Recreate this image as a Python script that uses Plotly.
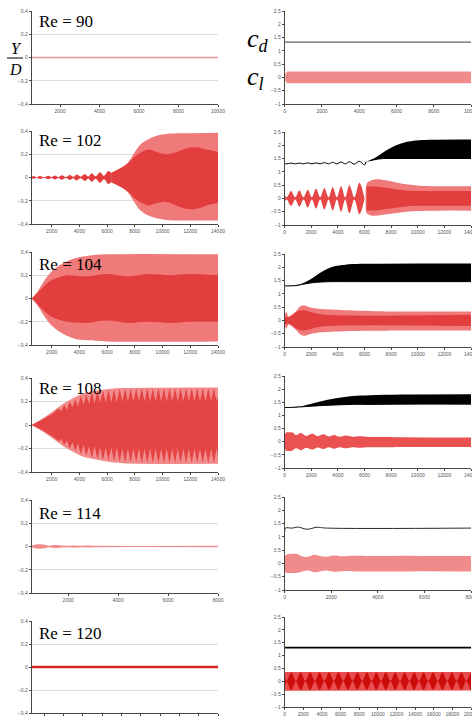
import plotly.graph_objects as go

W, H = 472, 716

# ---------------- data ----------------
# Row 1 : Re = 90
L1_t = [560, 10000]
L1_y = [0.0, 0.0]
R1_cd_t = [0, 10000]
R1_cd = [1.33, 1.33]
R1_cl_t = [30, 120, 10000]
R1_cl_up = [0.12, 0.22, 0.22]
R1_cl_lo = [-0.12, -0.22, -0.22]

# Row 2 : Re = 102
L2_lobe_t = [560, 676, 916, 1156, 1456, 1757, 1997, 2238, 2478, 2719, 3020, 3320, 3560,
             3800, 4100, 4401, 4640, 4882, 5180, 5483, 5780, 6083, 6300]
L2_lobe_a = [0.003, 0.012, 0.003, 0.013, 0.003, 0.015, 0.004, 0.017, 0.004, 0.019, 0.005,
             0.022, 0.006, 0.026, 0.007, 0.031, 0.008, 0.037, 0.01, 0.045, 0.014, 0.055, 0.04]
L2_t = [6300, 6800, 7500, 8000, 8370, 8850, 9570, 10290, 11490, 14000]
L2_up = [0.04, 0.06, 0.13, 0.22, 0.28, 0.32, 0.36, 0.375, 0.38, 0.385]
L2_lo = [-0.04, -0.06, -0.13, -0.22, -0.28, -0.32, -0.35, -0.365, -0.37, -0.37]
L2_in_t = [6300, 7500, 8000, 8500, 9000, 9600, 10300, 11000, 11700, 12400, 13200, 14000]
L2_in_up = [0.04, 0.12, 0.18, 0.22, 0.24, 0.22, 0.2, 0.22, 0.25, 0.26, 0.24, 0.22]
L2_in_lo = [-0.04, -0.12, -0.18, -0.22, -0.24, -0.22, -0.21, -0.24, -0.27, -0.27, -0.24, -0.22]

R2_lobe_t = [0, 150, 476, 789, 1102, 1415, 1728, 2041, 2355, 2668, 2981, 3294, 3607, 3920,
             4233, 4546, 4860, 5235, 5611, 5990]
R2_lobe_up = [0.12, 0.04, 0.28, 0.04, 0.3, 0.04, 0.33, 0.04, 0.36, 0.04, 0.39, 0.04, 0.42,
              0.04, 0.46, 0.04, 0.5, 0.04, 0.59, 0.02]
R2_lobe_lo = [-0.12, -0.04, -0.28, -0.04, -0.31, -0.04, -0.34, -0.04, -0.38, -0.04, -0.42,
              -0.04, -0.45, -0.04, -0.5, -0.04, -0.56, -0.04, -0.59, -0.02]
R2_cl_t = [6080, 6160, 6360, 6860, 7615, 8370, 9120, 10120, 11370, 14000]
R2_cl_up = [0.1, 0.55, 0.65, 0.72, 0.68, 0.6, 0.53, 0.48, 0.46, 0.46]
R2_cl_lo = [-0.1, -0.55, -0.62, -0.65, -0.6, -0.55, -0.5, -0.47, -0.46, -0.46]
R2_cl_in_t = [6160, 6860, 7615, 8370, 9120, 10120, 14000]
R2_cl_in_a = [0.45, 0.45, 0.4, 0.35, 0.3, 0.28, 0.28]
R2_cd_t = [0, 150, 476, 789, 1102, 1415, 1728, 2041, 2355, 2668, 2981, 3294, 3607, 3920,
           4233, 4546, 4860, 5235, 5611, 5990, 6110]
R2_cd = [1.31, 1.3, 1.33, 1.3, 1.33, 1.3, 1.34, 1.3, 1.34, 1.3, 1.35, 1.3, 1.36, 1.3, 1.37,
         1.3, 1.38, 1.29, 1.4, 1.26, 1.38]
R2_cdb_t = [6110, 6360, 6860, 7615, 8370, 9120, 9870, 10870, 14000]
R2_cdb_up = [1.38, 1.43, 1.55, 1.8, 2.0, 2.12, 2.18, 2.21, 2.22]
R2_cdb_lo = [1.38, 1.4, 1.45, 1.48, 1.48, 1.48, 1.48, 1.48, 1.48]

# Row 3 : Re = 104
L3_t = [560, 920, 1400, 1890, 2490, 3100, 3820, 4780, 5990, 14000]
L3_up = [0.0, 0.05, 0.14, 0.22, 0.28, 0.32, 0.35, 0.37, 0.38, 0.38]
L3_lo = [0.0, -0.05, -0.14, -0.22, -0.28, -0.32, -0.35, -0.36, -0.37, -0.37]
L3_in_t = [560, 920, 1400, 1890, 2490, 3100, 4500, 6000, 7500, 9000, 10500, 12000, 14000]
L3_in_up = [0.0, 0.04, 0.1, 0.15, 0.18, 0.2, 0.19, 0.21, 0.19, 0.21, 0.2, 0.21, 0.2]
L3_in_lo = [0.0, -0.04, -0.1, -0.15, -0.18, -0.2, -0.21, -0.19, -0.21, -0.2, -0.21, -0.2, -0.2]

R3_cd_t = [0, 850, 1350, 2100, 2860, 3600, 4600, 5860, 14000]
R3_cd_up = [1.3, 1.33, 1.4, 1.6, 1.85, 2.02, 2.1, 2.13, 2.14]
R3_cd_lo = [1.3, 1.31, 1.36, 1.42, 1.45, 1.46, 1.46, 1.46, 1.46]
R3_cl_t = [0, 120, 300, 476, 850, 1230, 1480, 1850, 2350, 3100, 3860, 5110, 6860, 8870, 14000]
R3_cl_up = [0.2, 0.32, 0.15, 0.2, 0.35, 0.55, 0.56, 0.5, 0.45, 0.42, 0.4, 0.37, 0.35, 0.34, 0.34]
R3_cl_lo = [-0.2, -0.3, -0.15, -0.2, -0.36, -0.55, -0.58, -0.52, -0.47, -0.44, -0.42, -0.4,
            -0.39, -0.38, -0.38]
R3_cl_in_t = [0, 300, 850, 1230, 1850, 2350, 3100, 14000]
R3_cl_in_a = [0.15, 0.12, 0.3, 0.38, 0.34, 0.27, 0.21, 0.21]

# Row 4 : Re = 108
L4_t = [560, 1400, 2120, 2840, 3570, 4290, 5010, 5970, 7170, 14000]
L4_up = [0.0, 0.06, 0.12, 0.18, 0.23, 0.27, 0.29, 0.305, 0.315, 0.32]
L4_lo = [0.0, -0.06, -0.12, -0.18, -0.23, -0.27, -0.29, -0.31, -0.325, -0.33]
# dark saw-tooth core (tips / notches read along the band)
L4_in_t = [560, 1400, 2100, 2500, 2700, 2900, 3100, 3300, 3500, 3700, 3900, 4100, 4300,
           4500, 4700, 4900, 5100, 5300, 5500, 5700, 5900, 6100, 6300, 6500, 6700, 6900,
           7100, 7300, 7500, 7700, 7900, 8100, 8300, 8500, 8700, 8900, 9100, 9300, 9500,
           9700, 9900, 10100, 10300, 10500, 10700, 10900, 11100, 11300, 11500, 11700,
           11900, 12100, 12300, 12500, 12700, 12900, 13100, 13300, 13500, 13700, 13900, 14000]
L4_in_up = [0.0, 0.05, 0.1, 0.14, 0.12, 0.17, 0.13, 0.2, 0.15, 0.22, 0.16, 0.25, 0.17,
            0.26, 0.18, 0.28, 0.18, 0.29, 0.19, 0.295, 0.19, 0.3, 0.19, 0.305, 0.19, 0.31,
            0.2, 0.31, 0.2, 0.31, 0.2, 0.31, 0.2, 0.315, 0.2, 0.315, 0.2, 0.315, 0.2, 0.315,
            0.2, 0.315, 0.2, 0.315, 0.2, 0.315, 0.2, 0.315, 0.2, 0.315, 0.2, 0.315, 0.2,
            0.315, 0.2, 0.315, 0.2, 0.315, 0.2, 0.315, 0.2, 0.25]
L4_in_lo = [0.0, -0.05, -0.1, -0.14, -0.12, -0.17, -0.13, -0.2, -0.15, -0.22, -0.16, -0.25,
            -0.17, -0.26, -0.18, -0.28, -0.18, -0.29, -0.19, -0.3, -0.19, -0.305, -0.19,
            -0.31, -0.19, -0.315, -0.2, -0.32, -0.2, -0.32, -0.2, -0.32, -0.2, -0.325, -0.2,
            -0.325, -0.2, -0.325, -0.2, -0.325, -0.2, -0.325, -0.2, -0.325, -0.2, -0.325,
            -0.2, -0.325, -0.2, -0.325, -0.2, -0.325, -0.2, -0.325, -0.2, -0.325, -0.2,
            -0.325, -0.2, -0.325, -0.2, -0.25]

R4_cd_t = [0, 700, 1350, 2600, 3860, 5110, 6370, 8870, 14000]
R4_cd_up = [1.3, 1.32, 1.36, 1.52, 1.65, 1.74, 1.77, 1.8, 1.81]
R4_cd_lo = [1.3, 1.31, 1.33, 1.37, 1.4, 1.42, 1.42, 1.43, 1.43]
R4_cl_t = [0, 100, 350, 600, 850, 1230, 1600, 2100, 2480, 2900, 3300, 3730, 4100, 4600,
           5110, 5610, 6360, 7615, 8870, 14000]
R4_cl_up = [0.2, 0.35, 0.36, 0.35, 0.25, 0.33, 0.22, 0.3, 0.21, 0.28, 0.2, 0.26, 0.19, 0.24,
            0.19, 0.21, 0.18, 0.18, 0.17, 0.16]
R4_cl_lo = [-0.2, -0.34, -0.35, -0.33, -0.25, -0.32, -0.23, -0.3, -0.22, -0.28, -0.21, -0.27,
            -0.21, -0.25, -0.21, -0.23, -0.21, -0.21, -0.2, -0.2]

# Row 5 : Re = 114
L5_t = [540, 672, 872, 1072, 1205, 1405, 1565, 1741, 1941, 2150, 2342, 2550, 2806, 3100, 8000]
L5_a = [0.006, 0.016, 0.019, 0.015, 0.006, 0.012, 0.013, 0.009, 0.006, 0.008, 0.009,
        0.006, 0.008, 0.006, 0.006]
R5_cd_t = [0, 30, 340, 560, 915, 1100, 1345, 1800, 8000]
R5_cd = [1.2, 1.33, 1.33, 1.37, 1.29, 1.3, 1.36, 1.33, 1.33]
R5_cl_t = [0, 30, 300, 560, 770, 1000, 1270, 1500, 1800, 2100, 2500, 3000, 4000, 5000, 6000, 8000]
R5_cl_up = [0.0, 0.3, 0.36, 0.35, 0.26, 0.25, 0.33, 0.28, 0.25, 0.3, 0.27, 0.29, 0.28, 0.29,
            0.28, 0.28]
R5_cl_lo = [0.0, -0.33, -0.36, -0.35, -0.3, -0.27, -0.33, -0.3, -0.27, -0.31, -0.29, -0.3,
            -0.3, -0.3, -0.29, -0.3]

# Row 6 : Re = 120
L6_t = [700, 20000]
L6_y = [0.0, 0.0]
R6_cd_t = [0, 20000]
R6_cd = [1.31, 1.31]
R6_cl_t = [0, 20000]
R6_cl_up = [0.36, 0.36]
R6_cl_lo = [-0.37, -0.36]
R6_lobe_t = [0, 200, 700, 1200, 1715, 2215, 2730, 3240, 3745, 4255, 4760, 5270, 5775, 6285,
             6790, 7300, 7805, 8315, 8820, 9330, 9835, 10345, 10850, 11360, 11865, 12375,
             12880, 13390, 13895, 14405, 14910, 15420, 15925, 16435, 16940, 17450, 17955,
             18465, 18970, 19480, 19985, 20000]
R6_lobe_a = [0.3, 0.01, 0.34, 0.01, 0.34, 0.01, 0.34, 0.01, 0.34, 0.01, 0.34, 0.01, 0.34,
             0.01, 0.34, 0.01, 0.34, 0.01, 0.34, 0.01, 0.34, 0.01, 0.34, 0.01, 0.34, 0.01,
             0.34, 0.01, 0.34, 0.01, 0.34, 0.01, 0.34, 0.01, 0.34, 0.01, 0.34, 0.01, 0.34,
             0.01, 0.34, 0.3]

Re_labels = ["Re = 90", "Re = 102", "Re = 104", "Re = 108", "Re = 114", "Re = 120"]
left_xmin = [560, 560, 560, 560, 540, 700]
left_xmax = [10000, 14000, 14000, 14000, 8000, 20000]
right_xmax = [10000, 14000, 14000, 14000, 8000, 20000]

# ---------------- styling ----------------
LIGHT = "rgb(240,122,122)"
DARK = "rgb(226,62,62)"
PINK = "rgb(241,138,138)"

# pixel boxes (top, bottom) of each panel
left_box = [(11, 104), (131, 224), (252, 345), (378, 472), (500, 593), (621, 713)]
right_box = [(11, 104), (132, 225), (254, 347), (376, 468), (497, 590), (617, 707)]
LX = (31.7 / W, 218 / W)
RX = (284.7 / W, 471 / W)

fig = go.Figure()


def ax(k):
    return ("x" if k == 1 else f"x{k}"), ("y" if k == 1 else f"y{k}")


def band(k, t, up, lo, color, shape="spline", smooth=1.0):
    xa, ya = ax(k)
    ln = dict(width=0, shape=shape, color=color)
    if shape == "spline":
        ln["smoothing"] = smooth
    fig.add_trace(go.Scatter(x=t, y=lo, mode="lines", line=ln, xaxis=xa, yaxis=ya,
                             hoverinfo="skip", showlegend=False))
    fig.add_trace(go.Scatter(x=t, y=up, mode="lines", line=ln, fill="tonexty",
                             fillcolor=color, xaxis=xa, yaxis=ya,
                             hoverinfo="skip", showlegend=False))


def line(k, t, y, color, width=1.0, shape="spline"):
    xa, ya = ax(k)
    fig.add_trace(go.Scatter(
        x=t, y=y, mode="lines", line=dict(width=width, color=color, shape=shape),
        xaxis=xa, yaxis=ya, hoverinfo="skip", showlegend=False))


def neg(a):
    return [-v for v in a]


# Row 1
line(1, L1_t, L1_y, "rgb(238,150,150)", 1.5, "linear")
line(7, R1_cd_t, R1_cd, "rgb(60,60,60)", 1.0, "linear")
band(7, R1_cl_t, R1_cl_up, R1_cl_lo, PINK, "linear")

# Row 2
band(2, L2_lobe_t, L2_lobe_a, neg(L2_lobe_a), DARK)
band(2, L2_t, L2_up, L2_lo, LIGHT)
band(2, L2_in_t, L2_in_up, L2_in_lo, DARK)
band(8, R2_lobe_t, R2_lobe_up, R2_lobe_lo, "rgb(230,70,70)")
band(8, R2_cl_t, R2_cl_up, R2_cl_lo, LIGHT)
band(8, R2_cl_in_t, R2_cl_in_a, neg(R2_cl_in_a), DARK)
line(8, R2_cd_t, R2_cd, "black", 1.0)
band(8, R2_cdb_t, R2_cdb_up, R2_cdb_lo, "black")

# Row 3
band(3, L3_t, L3_up, L3_lo, LIGHT)
band(3, L3_in_t, L3_in_up, L3_in_lo, DARK)
band(9, R3_cd_t, R3_cd_up, R3_cd_lo, "black")
line(9, R3_cd_t, R3_cd_lo, "black", 1.0)
band(9, R3_cl_t, R3_cl_up, R3_cl_lo, LIGHT)
band(9, R3_cl_in_t, R3_cl_in_a, neg(R3_cl_in_a), DARK)

# Row 4
band(4, L4_t, L4_up, L4_lo, "rgb(242,140,140)")
band(4, L4_in_t, L4_in_up, L4_in_lo, "rgb(228,68,68)", "linear")
band(10, R4_cd_t, R4_cd_up, R4_cd_lo, "black")
line(10, R4_cd_t, R4_cd_lo, "black", 1.0)
band(10, R4_cl_t, R4_cl_up, R4_cl_lo, "rgb(234,82,82)")

# Row 5
band(5, L5_t, L5_a, neg(L5_a), PINK)
line(11, R5_cd_t, R5_cd, "rgb(40,40,40)", 1.0)
band(11, R5_cl_t, R5_cl_up, R5_cl_lo, PINK)

# Row 6
line(6, L6_t, L6_y, "rgb(215,35,35)", 2.5, "linear")
line(12, R6_cd_t, R6_cd, "black", 1.8, "linear")
band(12, R6_cl_t, R6_cl_up, R6_cl_lo, "rgb(232,78,78)", "linear")
band(12, R6_lobe_t, R6_lobe_a, neg(R6_lobe_a), "rgb(205,12,12)")

# ---------------- axes ----------------
tickfont = dict(family="Liberation Sans", size=5, color="#555")
axis_common = dict(showline=True, linecolor="rgb(70,70,70)", linewidth=1, ticks="outside",
                   ticklen=2, tickwidth=1, tickcolor="rgb(70,70,70)", tickfont=tickfont,
                   zeroline=False, mirror=False, automargin=False)
layout = {}
for i in range(6):
    k = i + 1
    top, bot = left_box[i]
    layout["xaxis" if k == 1 else f"xaxis{k}"] = dict(
        axis_common, domain=list(LX), range=[left_xmin[i], left_xmax[i]], anchor=ax(k)[1],
        tick0=0, dtick=2000, tickformat="d", showgrid=False,
        showticklabels=(i < 5))
    layout["yaxis" if k == 1 else f"yaxis{k}"] = dict(
        axis_common, domain=[max(0, 1 - bot / H), 1 - top / H], range=[-0.4, 0.4],
        anchor=ax(k)[0], tick0=0, dtick=0.2, showgrid=True, gridcolor="rgb(222,222,222)",
        gridwidth=1)
    k2 = i + 7
    top, bot = right_box[i]
    layout[f"xaxis{k2}"] = dict(
        axis_common, domain=list(RX), range=[0, right_xmax[i]], anchor=ax(k2)[1],
        tick0=0, dtick=2000, tickformat="d", showgrid=False, ticklabeloverflow="allow")
    layout[f"yaxis{k2}"] = dict(
        axis_common, domain=[1 - bot / H, 1 - top / H], range=[-1, 2.5], anchor=ax(k2)[0],
        tick0=0, dtick=0.5, showgrid=False)

annotations = []
label_dy = [10, 10, 13, 10, 13, 12]
for i in range(6):
    top = left_box[i][0]
    annotations.append(dict(
        text=Re_labels[i], xref="paper", yref="paper", x=37 / W, y=1 - (top + label_dy[i]) / H,
        xanchor="left", yanchor="middle", showarrow=False,
        font=dict(family="Liberation Serif", size=17, color="black")))

serif_i = dict(family="Liberation Serif", size=16, color="black")
annotations += [
    dict(text="<i>Y</i>", xref="paper", yref="paper", x=16 / W, y=1 - 48 / H, showarrow=False,
         xanchor="center", yanchor="middle", font=serif_i),
    dict(text="<i>D</i>", xref="paper", yref="paper", x=15 / W, y=1 - 70 / H, showarrow=False,
         xanchor="center", yanchor="middle", font=serif_i),
    dict(text="<i>c</i><sub><i>d</i></sub>", xref="paper", yref="paper", x=245 / W,
         y=1 - 40 / H, showarrow=False, xanchor="left", yanchor="middle",
         font=dict(family="Liberation Serif", size=26, color="black")),
    dict(text="<i>c</i><sub><i>l</i></sub>", xref="paper", yref="paper", x=245 / W,
         y=1 - 78 / H, showarrow=False, xanchor="left", yanchor="middle",
         font=dict(family="Liberation Serif", size=26, color="black")),
]
shapes = [dict(type="line", xref="paper", yref="paper", x0=7 / W, x1=23 / W,
               y0=1 - 58 / H, y1=1 - 58 / H, line=dict(color="black", width=1))]

fig.update_layout(width=W, height=H, margin=dict(l=0, r=0, t=0, b=0, autoexpand=False),
                  paper_bgcolor="white", plot_bgcolor="white", showlegend=False,
                  annotations=annotations, shapes=shapes, **layout)

fig.write_html("out.html")
